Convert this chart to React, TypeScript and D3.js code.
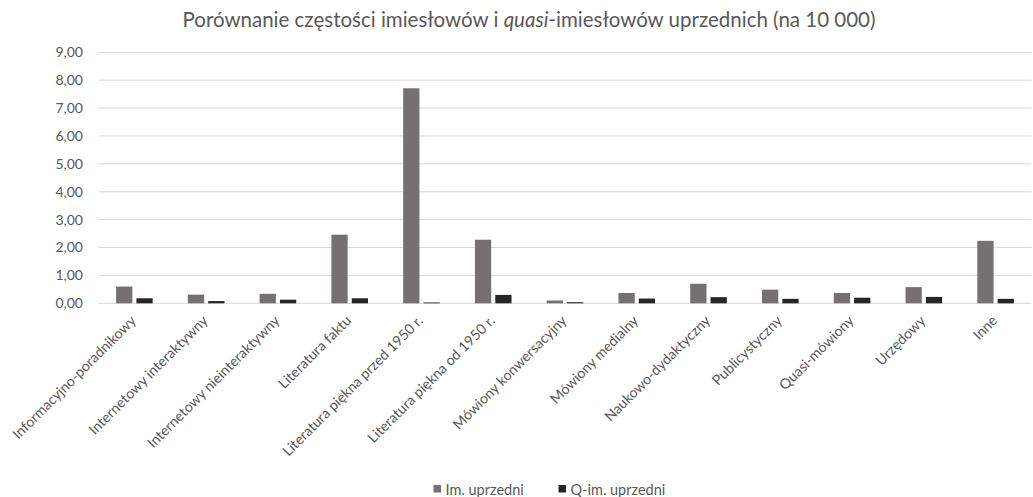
import React from "react";
import * as d3 from "d3";

const categories = [
  "Informacyjno-poradnikowy",
  "Internetowy interaktywny",
  "Internetowy nieinteraktywny",
  "Literatura faktu",
  "Literatura piękna przed 1950 r.",
  "Literatura piękna od 1950 r.",
  "Mówiony konwersacyjny",
  "Mówiony medialny",
  "Naukowo-dydaktyczny",
  "Publicystyczny",
  "Quasi-mówiony",
  "Urzędowy",
  "Inne",
];

const imUprzedni = [0.6, 0.31, 0.34, 2.46, 7.71, 2.28, 0.1, 0.37, 0.7, 0.49, 0.37, 0.58, 2.24];
const qImUprzedni = [0.18, 0.08, 0.13, 0.18, 0.03, 0.3, 0.04, 0.17, 0.22, 0.16, 0.2, 0.23, 0.16];

const seriesNames = ["Im. uprzedni", "Q-im. uprzedni"];
const seriesColors = ["#767171", "#262626"];
const yTicks = [0, 1, 2, 3, 4, 5, 6, 7, 8, 9];

const W = 1033;
const H = 497;
const FONT = "Lato, 'Noto Sans', sans-serif";
const TEXT = "#595959";

export default function App() {
  const plotLeft = 98.5;
  const plotRight = 1031.5;
  const plotTop = 52.3;
  const plotBottom = 303.3;

  const x0 = d3.scaleBand<string>().domain(categories).range([plotLeft, plotRight]).padding(0);
  const groupW = 36.6;
  const groupOffset = (x0.bandwidth() - groupW) / 2;
  const x1 = d3.scaleBand<string>().domain(seriesNames).range([0, groupW]).paddingInner(0.2);
  const y = d3.scaleLinear().domain([0, 9]).range([plotBottom, plotTop]);
  const fmt = (v: number) => d3.format(".2f")(v).replace(".", ",");

  const series = [imUprzedni, qImUprzedni];

  return (
    <svg width={W} height={H} style={{ position: "absolute", left: 0, top: 0, background: "#fff" }}>
      <rect x={0} y={0} width={W} height={H} fill="#fff" />
      <text x={529} y={27} textAnchor="middle" fontFamily={FONT} fontSize={20.5} fill={TEXT}>
        Porównanie częstości imiesłowów i <tspan fontStyle="italic">quasi</tspan>-imiesłowów uprzednich (na 10 000)
      </text>

      {yTicks.map((t) => (
        <g key={t}>
          <line x1={plotLeft} x2={plotRight} y1={y(t)} y2={y(t)} stroke="#d9d9d9" strokeWidth={1} />
          <text x={83} y={y(t)} dy="0.35em" textAnchor="end" fontFamily={FONT} fontSize={14} fill={TEXT}>
            {fmt(t)}
          </text>
        </g>
      ))}

      {categories.map((c, i) => (
        <g key={c} transform={`translate(${(x0(c) ?? 0) + groupOffset},0)`}>
          {series.map((s, k) => (
            <rect
              key={k}
              x={x1(seriesNames[k])}
              y={y(s[i])}
              width={x1.bandwidth()}
              height={plotBottom - y(s[i])}
              fill={seriesColors[k]}
            />
          ))}
        </g>
      ))}

      {categories.map((c) => {
        const cx = (x0(c) ?? 0) + x0.bandwidth() / 2 - 1;
        const cy = 318;
        return (
          <text
            key={c}
            transform={`translate(${cx},${cy}) rotate(-45)`}
            textAnchor="end"
            dy="0.35em"
            fontFamily={FONT}
            fontSize={14.2}
            fill={TEXT}
          >
            {c}
          </text>
        );
      })}

      {seriesNames.map((n, k) => {
        const lx = [433.5, 558.5][k];
        return (
          <g key={n}>
            <rect x={lx} y={485} width={7.5} height={7.5} fill={seriesColors[k]} />
            <text x={lx + 12} y={489.5} dy="0.35em" fontFamily={FONT} fontSize={14.5} fill={TEXT}>
              {n}
            </text>
          </g>
        );
      })}
    </svg>
  );
}
